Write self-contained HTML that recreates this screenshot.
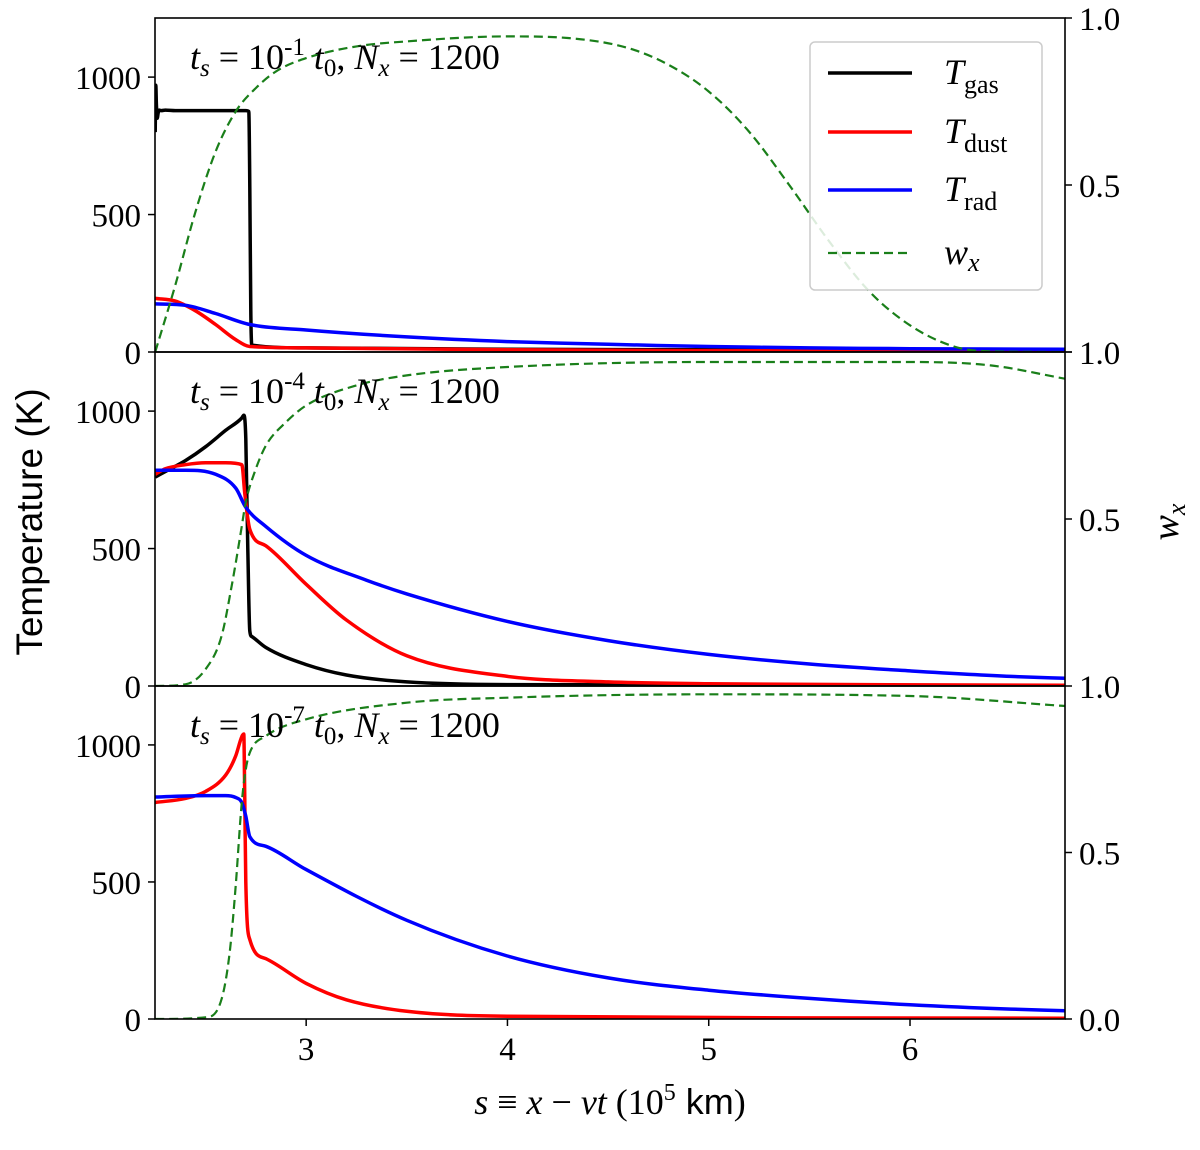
<!DOCTYPE html>
<html><head><meta charset="utf-8"><style>
body{margin:0;background:#fff}
svg text{font-family:"Liberation Serif",serif;fill:#000}
</style></head><body>
<svg id="chart" width="1200" height="1145" viewBox="0 0 1200 1145" xmlns="http://www.w3.org/2000/svg"></svg>
<script>
// ---- data ----
const xTicks=[3,4,5,6];
const tTicks=[0,500,1000];
const panelLabels=["-1","-4","-7"];
// panel 1 (ts=1e-1)
const p1GasX=[2.25,2.253,2.256,2.26,2.265,2.27,2.28,2.3,2.35,2.5,2.7,2.715,2.72,2.725,2.73,3,4,5,6,6.77];
const p1GasT=[800,970,900,850,870,880,878,880,878,878,878,875,600,150,25,15,10,8,5,5];
const p1DustX=[2.25,2.35,2.45,2.55,2.65,2.72,3,4,5,6.77];
const p1DustT=[195,185,150,100,45,20,15,8,5,3];
const p1RadX=[2.25,2.4,2.55,2.72,3,3.5,4,4.5,5,5.5,6,6.77];
const p1RadT=[175,170,140,100,80,55,38,28,20,15,12,10];
const p1WX=[2.25,2.35,2.45,2.55,2.65,2.75,2.85,3,3.25,3.5,4,4.3,4.6,4.8,5,5.2,5.4,5.6,5.8,6,6.2,6.35,6.77];
const p1W=[0,0.2,0.42,0.6,0.72,0.79,0.84,0.88,0.915,0.93,0.945,0.94,0.91,0.86,0.78,0.66,0.5,0.33,0.18,0.08,0.02,0.003,0];
// panel 2 (ts=1e-4)
const p2GasX=[2.25,2.3,2.4,2.5,2.6,2.68,2.69,2.7,2.71,2.72,2.73,2.8,3,3.2,3.5,4,6.77];
const p2GasT=[760,780,820,870,930,975,985,900,500,200,180,140,78,40,15,5,2];
const p2DustX=[2.25,2.3,2.4,2.5,2.6,2.68,2.695,2.72,2.8,3,3.2,3.5,4,4.5,5,6.77];
const p2DustT=[770,790,805,812,812,805,700,570,510,370,240,110,35,15,8,3];
const p2RadX=[2.25,2.4,2.55,2.65,2.7,2.8,3,3.3,3.5,4,4.5,5,5.5,6,6.5,6.77];
const p2RadT=[785,785,770,720,650,580,475,385,335,235,165,115,80,55,35,28];
const p2WX=[2.25,2.4,2.5,2.58,2.63,2.67,2.7,2.75,2.8,2.9,3,3.25,3.5,4,5,6,6.4,6.77];
const p2W=[0,0.005,0.05,0.15,0.3,0.44,0.55,0.65,0.72,0.79,0.84,0.9,0.93,0.955,0.97,0.97,0.96,0.92];
// panel 3 (ts=1e-7)
const p3DustX=[2.25,2.4,2.5,2.6,2.65,2.68,2.69,2.695,2.7,2.72,2.8,3,3.2,3.5,4,6.77];
const p3DustT=[790,805,830,890,960,1030,1040,800,500,290,220,130,70,28,10,3];
const p3RadX=[2.25,2.5,2.6,2.65,2.68,2.7,2.72,2.8,3,3.5,4,4.5,5,5.5,6,6.5,6.77];
const p3RadT=[810,815,815,808,790,740,665,630,545,360,230,150,105,75,52,36,30];
const p3WX=[2.25,2.5,2.58,2.62,2.65,2.68,2.7,2.72,2.8,3,3.5,4,5,6,6.77];
const p3W=[0,0.005,0.06,0.2,0.4,0.65,0.75,0.8,0.85,0.9,0.95,0.965,0.975,0.97,0.94];

// ---- layout ----
const svg=document.getElementById('chart');
const NS='http://www.w3.org/2000/svg';
const L=155,R=1065,XMIN=2.249,XMAX=6.77;
const panels=[{top:18,bot:352},{top:352,bot:686},{top:686,bot:1019}];
const TMAX=1215;
const sx=v=>L+(v-XMIN)/(XMAX-XMIN)*(R-L);
function mk(tag,attrs,parent){const e=document.createElementNS(NS,tag);for(const k in attrs)e.setAttribute(k,attrs[k]);(parent||svg).appendChild(e);return e;}
function monoPath(P){
  const n=P.length;if(n<2)return '';
  const d=[],m=[];
  for(let i=0;i<n-1;i++){const dx=P[i+1][0]-P[i][0];d.push(dx===0?0:(P[i+1][1]-P[i][1])/dx);}
  m[0]=d[0];m[n-1]=d[n-2];
  for(let i=1;i<n-1;i++){m[i]=(d[i-1]*d[i]<=0)?0:(d[i-1]+d[i])/2;}
  for(let i=0;i<n-1;i++){
    if(d[i]===0){m[i]=0;m[i+1]=0;continue;}
    const a=m[i]/d[i],b=m[i+1]/d[i],s=a*a+b*b;
    if(s>9){const t=3/Math.sqrt(s);m[i]=t*a*d[i];m[i+1]=t*b*d[i];}
  }
  let s='M'+P[0][0].toFixed(1)+','+P[0][1].toFixed(1);
  for(let i=0;i<n-1;i++){
    const h=(P[i+1][0]-P[i][0])/3;
    s+='C'+(P[i][0]+h).toFixed(1)+','+(P[i][1]+m[i]*h).toFixed(1)+' '+(P[i+1][0]-h).toFixed(1)+','+(P[i+1][1]-m[i+1]*h).toFixed(1)+' '+P[i+1][0].toFixed(1)+','+P[i+1][1].toFixed(1);
  }
  return s;
}
const series=[
 {gas:[p1GasX,p1GasT],dust:[p1DustX,p1DustT],rad:[p1RadX,p1RadT],w:[p1WX,p1W]},
 {gas:[p2GasX,p2GasT],dust:[p2DustX,p2DustT],rad:[p2RadX,p2RadT],w:[p2WX,p2W]},
 {dust:[p3DustX,p3DustT],rad:[p3RadX,p3RadT],w:[p3WX,p3W]}
];
panels.forEach((p,i)=>{
  const g=mk('g',{});
  
  
  const sy=v=>p.bot-v/TMAX*(p.bot-p.top);
  const sw=v=>p.bot-v*(p.bot-p.top);
  mk('defs',{}).innerHTML='<clipPath id="c'+i+'"><rect x="'+L+'" y="'+p.top+'" width="'+(R-L)+'" height="'+(p.bot-p.top)+'"/></clipPath>';
  const s=series[i];
  const cg=mk('g',{'clip-path':'url(#c'+i+')'},g);
  function ln(arr,sc,color,name,dash){
    const P=arr[0].map((x,k)=>[sx(x),sc(arr[1][k])]);
    const e=mk('path',{d:monoPath(P),fill:'none',stroke:color,'stroke-width':dash?2.2:3.5,'stroke-linejoin':'round'},cg);
    if(dash)e.setAttribute('stroke-dasharray','9,5');
    
    
  }
  if(s.gas)ln(s.gas,sy,'#000','t-gas-line-'+(i+1));
  ln(s.dust,sy,'#f00','t-dust-line-'+(i+1));
  ln(s.rad,sy,'#00f','t-rad-line-'+(i+1));
  ln(s.w,sw,'#1a7f1a','wx-line-'+(i+1),true);
  mk('rect',{x:L,y:p.top,width:R-L,height:p.bot-p.top,fill:'none',stroke:'#000','stroke-width':1.6},g);
  tTicks.forEach(t=>{
    const y=sy(t);
    mk('line',{x1:L-7,x2:L,y1:y,y2:y,stroke:'#000','stroke-width':1.5},g);
    const tx=mk('text',{x:L-14,y:y+12,'text-anchor':'end','font-size':33},g);tx.textContent=t;
    
    
  });
  const wl=(i===2)?[0,0.5,1]:[0.5,1];
  wl.forEach(w=>{
    const y=sw(w);
    mk('line',{x1:R,x2:R+7,y1:y,y2:y,stroke:'#000','stroke-width':1.5},g);
    const tx=mk('text',{x:R+14,y:y+12,'font-size':33},g);tx.textContent=w.toFixed(1);
    
    
  });
  if(i===0){mk('line',{x1:R,x2:R+7,y1:p.bot,y2:p.bot,stroke:'#000','stroke-width':1.5},g);}
  xTicks.forEach(v=>{mk('line',{x1:sx(v),x2:sx(v),y1:p.bot,y2:p.bot+(i===2?7:0),stroke:'#000','stroke-width':1.5},g);});
  const lab=mk('text',{x:190,y:p.top+51,'font-size':36},g);
  lab.innerHTML='<tspan font-style="italic">t</tspan><tspan font-style="italic" font-size="25" dy="7">s</tspan><tspan dy="-7"> = 10</tspan><tspan font-size="25" dy="-14">'+panelLabels[i]+'</tspan><tspan font-style="italic" dy="14"> t</tspan><tspan font-size="25" dy="7">0</tspan><tspan dy="-7">, </tspan><tspan font-style="italic">N</tspan><tspan font-style="italic" font-size="25" dy="7">x</tspan><tspan dy="-7"> = 1200</tspan>';
  
  
});
xTicks.forEach(v=>{const t=mk('text',{x:sx(v),y:1060,'text-anchor':'middle','font-size':33});t.textContent=v;
  
  });
const xt=mk('text',{x:610,y:1114,'text-anchor':'middle','font-size':36});
xt.innerHTML='<tspan font-style="italic">s</tspan> ≡ <tspan font-style="italic">x</tspan> − <tspan font-style="italic">vt</tspan> (10<tspan font-size="24" dy="-14">5</tspan><tspan dy="14" font-family="Liberation Sans, sans-serif"> km</tspan>)';


const yt=mk('text',{x:0,y:0,'text-anchor':'middle','font-size':37,transform:'translate(42,522) rotate(-90)',style:'font-family:Liberation Sans,sans-serif'});
yt.textContent='Temperature (K)';


const wt=mk('text',{x:0,y:0,'text-anchor':'middle','font-size':38,transform:'translate(1178,522) rotate(-90)'});
wt.innerHTML='<tspan font-style="italic">w</tspan><tspan font-style="italic" font-size="26" dy="7">x</tspan>';


const lg=mk('g',{});


mk('rect',{x:810,y:42,width:232,height:248,rx:5,fill:'#fff','fill-opacity':0.85,stroke:'#ccc','stroke-width':1.5},lg);
const legItems=[['#000','gas',73,false,'T'],['#f00','dust',132,false,'T'],['#00f','rad',190,false,'T'],['#1a7f1a','x',253,true,'w']];
legItems.forEach(it=>{
  const l=mk('line',{x1:828,x2:912,y1:it[2],y2:it[2],stroke:it[0],'stroke-width':it[3]?2.2:3.5},lg);
  if(it[3])l.setAttribute('stroke-dasharray','9,5');
  const t=mk('text',{x:944,y:it[2]+11,'font-size':36},lg);
  t.innerHTML=it[4]==='T'?'<tspan font-style="italic">T</tspan><tspan font-size="26" dy="9">'+it[1]+'</tspan>':'<tspan font-style="italic">w</tspan><tspan font-style="italic" font-size="26" dy="7">x</tspan>';
  
  
});
</script>
</body></html>
